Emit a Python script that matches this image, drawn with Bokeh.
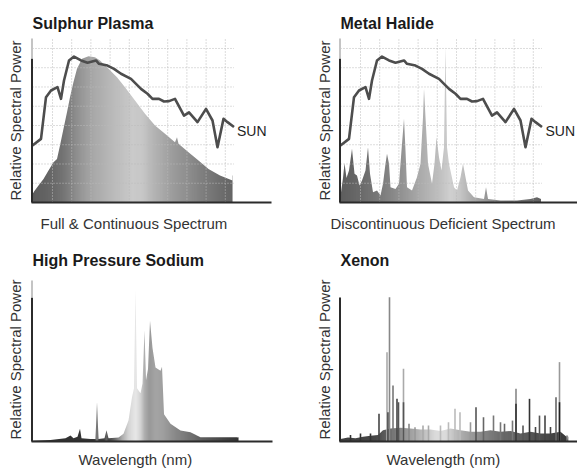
import numpy as np
from bokeh.plotting import figure
from bokeh.layouts import row, column
from bokeh.models import Range1d, Label
from bokeh.embed import file_html
from bokeh.resources import INLINE

# ---------------- data ----------------
TITLES = ["Sulphur Plasma", "Metal Halide", "High Pressure Sodium", "Xenon"]
XLABELS = ["Full & Continuous Spectrum", "Discontinuous Deficient Spectrum",
           "Wavelength (nm)", "Wavelength (nm)"]
YLABEL = "Relative Spectral Power"
SUN_LABEL = "SUN"

# reference daylight curve (nm, relative power)
SUN_WL = [380, 397, 407, 417, 430, 437, 443, 453, 463, 477, 490, 507, 513, 530, 543,
          557, 577, 597, 610, 620, 633, 643, 653, 665, 683, 693, 710, 727, 740, 750,
          762, 770, 783]
SUN = [34.8, 38.8, 64.2, 68.3, 70.3, 63.2, 74.4, 86.6, 89.0, 86.6, 85.2, 86.6, 84.6,
       83.5, 81.5, 78.5, 75.4, 69.3, 66.3, 63.2, 63.2, 61.6, 61.8, 63.2, 53.0, 55.0,
       49.0, 57.1, 50.0, 33.7, 51.0, 49.0, 46.0]

# sulphur plasma
SP_WL = [380, 382, 392, 402, 412, 422, 429, 435, 442, 449, 455, 462, 469, 479, 492,
         505, 515, 532, 549, 565, 585, 605, 625, 645, 665, 669, 672, 692, 712, 732,
         755, 780]
SP = [5.0, 6.3, 10.4, 14.4, 19.5, 24.6, 26.6, 34.8, 44.9, 55.1, 64.2, 73.4, 81.5,
      87.6, 89.2, 88.6, 86.6, 81.5, 76.4, 70.3, 62.2, 54.1, 47.0, 41.9, 36.8, 39.8,
      35.8, 30.7, 25.6, 20.5, 16.5, 13.4]

# metal halide
MH_WL = [380, 385, 388, 392, 397, 403, 408, 413, 418, 423, 430, 435, 439, 445, 453,
         460, 465, 470, 473, 477, 480, 490, 497, 502, 507, 510, 513, 523, 533, 540,
         545, 547, 550, 555, 563, 568, 572, 577, 582, 587, 590, 593, 597, 607, 613,
         620, 625, 630, 635, 647, 667, 671, 675, 700, 733, 760, 773, 781]
MH = [4.0, 15.0, 24.0, 15.0, 19.5, 32.7, 17.5, 16.5, 10.4, 13.4, 19.5, 33.7, 17.5,
      6.3, 7.3, 4.3, 11.4, 23.6, 29.7, 23.6, 9.3, 8.3, 11.4, 31.7, 51.0, 31.7, 9.3,
      7.3, 15.4, 23.6, 52.0, 69.3, 52.0, 23.6, 11.4, 23.6, 39.8, 27.6, 19.5, 33.7,
      94.7, 33.7, 23.6, 9.3, 7.3, 15.4, 23.6, 15.4, 7.3, 3.2, 2.2, 9.3, 2.2, 1.2, 1.2,
      2.2, 3.2, 2.2]

# high pressure sodium
HPS_WL = [380, 416, 446, 456, 462, 470, 475, 478, 496, 506, 509, 512, 524, 528, 532,
          552, 562, 572, 579, 583, 586, 589, 596, 600, 604, 607, 611, 615, 620, 626,
          636, 639, 643, 656, 676, 696, 716, 750, 792]
HPS = [0.5, 1.0, 2.0, 3.7, 2.0, 3.0, 7.9, 2.0, 1.5, 1.5, 24.4, 1.5, 2.0, 7.0, 2.0,
       2.5, 4.8, 13.0, 27.5, 33.0, 94.0, 33.0, 30.0, 36.0, 69.0, 38.0, 45.0, 75.0,
       58.0, 46.0, 44.0, 46.5, 17.0, 11.0, 6.8, 5.8, 2.7, 2.7, 2.7]

# xenon: continuum floor and emission lines
XE_BASE_WL = [380, 395, 410, 425, 440, 455, 465, 480, 500, 520, 540, 560, 580, 600,
              620, 640, 660, 680, 700, 720, 740, 760, 780, 800, 820, 832, 836]
XE_BASE = [1.5, 2.5, 2.0, 3.0, 3.5, 4.0, 7.0, 8.0, 8.5, 8.0, 7.5, 7.5, 6.5, 8.0, 7.0,
           6.0, 6.0, 7.0, 6.0, 6.5, 5.0, 6.0, 5.0, 5.0, 6.0, 3.0, 0.0]
XE_LINE_WL = [400, 420, 440, 457, 473, 475, 478, 485, 493, 496, 506, 506, 517, 529,
              545, 556, 580, 596, 609, 619, 640, 651, 666, 686, 700, 708, 724, 731,
              731, 745, 758, 770, 778, 789, 800, 811, 818, 818, 833]
XE_LINE = [4.0, 5.0, 5.0, 17.2, 55.5, 18.2, 89.6, 34.8, 26.5, 24.4, 45.2, 24.4, 11.0,
           8.9, 10.0, 9.9, 10.0, 12.0, 20.3, 18.2, 12.0, 21.3, 15.1, 16.1, 12.0, 11.0,
           13.0, 32.7, 23.4, 10.0, 26.5, 9.0, 16.1, 16.1, 9.0, 27.5, 49.3, 24.4, 3.7]

# ---------------- styling ----------------
FONT = "Liberation Sans"
XE_LINE_SHADE = [0x33, 0x33, 0x33, 0x44, 0xaa, 0x44, 0x88, 0x77, 0x44, 0x55, 0xaa,
                 0x55, 0x88, 0x99, 0xaa, 0xaa, 0xbb, 0xbb, 0xbb, 0xbb, 0x99, 0x55,
                 0x66, 0x77, 0x77, 0x66, 0x77, 0x88, 0x33, 0x55, 0x33, 0x44, 0x55,
                 0x44, 0x44, 0x66, 0x99, 0x22, 0x77]
SP_RAMP = ([380, 400, 420, 440, 460, 480, 500, 520, 540, 560, 580, 600, 620, 640, 660,
            680, 700, 720, 740, 760, 782],
           [0x50, 0x55, 0x5c, 0x68, 0x7c, 0x90, 0xa0, 0xaa, 0xb4, 0xbc, 0xc6, 0xc2, 0xb0,
            0xa2, 0x94, 0x8a, 0x80, 0x74, 0x6a, 0x60, 0x58])
MH_RAMP = ([380, 420, 460, 500, 540, 580, 600, 620, 640, 680, 740, 782],
           [0x50, 0x5e, 0x70, 0x88, 0xa4, 0xbc, 0xcc, 0xc0, 0xa8, 0x88, 0x68, 0x55])
HPS_RAMP = ([380, 500, 505, 509, 513, 524, 528, 532, 545, 560, 572, 586, 596, 604, 614,
             626, 640, 660, 690, 720, 760, 792],
            [0x20, 0x24, 0x30, 0x80, 0x30, 0x30, 0x60, 0x30, 0x60, 0xa8, 0xd0, 0xe6, 0xd0,
             0xa8, 0x90, 0x9c, 0x98, 0x84, 0x6c, 0x50, 0x38, 0x24])
XE_RAMP = ([380, 450, 470, 500, 540, 570, 590, 620, 660, 700, 760, 836],
           [0x30, 0x38, 0x50, 0x80, 0xb0, 0xd8, 0xd8, 0xa8, 0x80, 0x60, 0x48, 0x28])

AX = 378          # wavelength at the y-axis line; 2 nm per pixel horizontally
AXIS_COL = "#2b2b2b"
TEXT_COL = "#333333"
TITLE_SIZE = "16px"


def grey(v):
    v = int(round(max(0, min(255, v))))
    return "#%02x%02x%02x" % (v, v, v)


def make_fig(width, height, axis_px, base_px, px_per_unit):
    """Whole canvas is the frame; axes drawn by hand so all texts can sit anywhere."""
    x0 = AX - 2 * axis_px
    p = figure(width=width, height=height, output_backend="svg", toolbar_location=None,
               x_range=Range1d(x0, x0 + 2 * width),
               y_range=Range1d(-(height - base_px) / px_per_unit, base_px / px_per_unit),
               min_border=0, min_border_left=0, min_border_right=0,
               min_border_top=0, min_border_bottom=0)
    p.axis.visible = False
    p.grid.visible = False
    p.outline_line_color = None
    p.title.visible = False
    return p


def add_text(p, x, y, text, size="15px", bold=False, color=TEXT_COL, angle=0.0,
             align="left", baseline="alphabetic"):
    p.add_layout(Label(x=x, y=y, text=text, text_font=FONT, text_font_size=size,
                       text_font_style="bold" if bold else "normal", text_color=color,
                       angle=angle, text_align=align, text_baseline=baseline))


def gradient_fill(p, wl, vals, ramp):
    lefts = np.arange(wl[0], wl[-1], 2.0)
    rights = np.minimum(lefts + 2.7, wl[-1])
    cols = [grey(v) for v in np.interp(lefts + 1.0, ramp[0], ramp[1])]
    p.quad(left=lefts, right=rights, bottom=0, top=100, fill_color=cols, line_color=None)
    p.varea(x=wl, y1=vals, y2=[101] * len(wl), fill_color="white")
    # white caps (overlapping by >1 px) hide anti-aliasing seams at both mask ends
    p.quad(left=[wl[0] - 3.0, wl[-1] - 2.6], right=[wl[0] + 2.6, wl[-1] + 3.0],
           bottom=[max(vals[0], vals[1]), max(vals[-1], vals[-2])], top=101,
           fill_color="white", line_color=None)


def dotted_grid(p):
    vx = [420 + 38.4 * k for k in range(10)]
    p.segment(x0=vx, y0=0, x1=vx, y1=100, line_color="#bababa", line_width=1,
              line_dash="1 2")
    hy = [11.74 * m for m in range(1, 9)]
    p.segment(x0=380, y0=hy, x1=783, y1=hy, line_color="#bababa", line_width=1,
              line_dash="1 2")


def axes(p, x_end, dark_top, grey_top):
    p.segment(x0=[AX + 1] * 2, y0=[0, dark_top], x1=[AX + 1] * 2,
              y1=[dark_top, grey_top], line_color=[AXIS_COL, "#c4c4c4"], line_width=2)
    p.segment(x0=AX, y0=0, x1=x_end, y1=0, line_color=AXIS_COL, line_width=2)


def sun(p, lx, ly):
    p.line(SUN_WL, SUN, line_color="#4d4d4d", line_width=2.6, line_join="round")
    add_text(p, lx, ly, SUN_LABEL, size="14px", color="#1e1e1e", baseline="middle")


HALF_PI = np.pi / 2

# ---- Sulphur Plasma (canvas x 0..290, y 0..235; axis at x=31, baseline y=202) ----
p1 = make_fig(290, 235, 31, 202, 1.64)
gradient_fill(p1, SP_WL, SP, SP_RAMP)
dotted_grid(p1)
sun(p1, 789, 43.3)
axes(p1, 858, 87.8, 100)
add_text(p1, 380, 109.4, TITLES[0], size=TITLE_SIZE, bold=True, color="#1a1a1a")
add_text(p1, 396, -12.6, XLABELS[0])
add_text(p1, 346, 50, YLABEL, angle=HALF_PI, align="center", baseline="middle")

# ---- Metal Halide (canvas x 290..577; axis at x=339) ----
p2 = make_fig(287, 235, 49, 202, 1.64)
gradient_fill(p2, MH_WL, MH, MH_RAMP)
dotted_grid(p2)
sun(p2, 790, 43.3)
axes(p2, 854, 87.8, 100)
add_text(p2, 380, 109.4, TITLES[1], size=TITLE_SIZE, bold=True, color="#1a1a1a")
add_text(p2, 360, -12.6, XLABELS[1])
add_text(p2, 348, 50, YLABEL, angle=HALF_PI, align="center", baseline="middle")

# ---- High Pressure Sodium (canvas y 235..468; baseline y=441) ----
p3 = make_fig(290, 233, 31, 206, 1.61)
gradient_fill(p3, HPS_WL, HPS, HPS_RAMP)
axes(p3, 860, 89.4, 100)
add_text(p3, 380, 112.4, TITLES[2], size=TITLE_SIZE, bold=True, color="#1a1a1a")
add_text(p3, 472, -11.2, XLABELS[2])
add_text(p3, 346, 50.9, YLABEL, angle=HALF_PI, align="center", baseline="middle")

# ---- Xenon ----
p4 = make_fig(287, 233, 49, 206, 1.61)
gradient_fill(p4, XE_BASE_WL, XE_BASE, XE_RAMP)
p4.segment(x0=XE_LINE_WL, y0=0, x1=XE_LINE_WL, y1=XE_LINE,
           line_color=[grey(v) for v in XE_LINE_SHADE], line_width=1.6)
axes(p4, 854, 89.4, 89.4)
add_text(p4, 380, 112.4, TITLES[3], size=TITLE_SIZE, bold=True, color="#1a1a1a")
add_text(p4, 472, -11.2, XLABELS[3])
add_text(p4, 348, 50.9, YLABEL, angle=HALF_PI, align="center", baseline="middle")

layout = column(row(p1, p2), row(p3, p4))
open("out.html", "w").write(file_html(layout, INLINE))
